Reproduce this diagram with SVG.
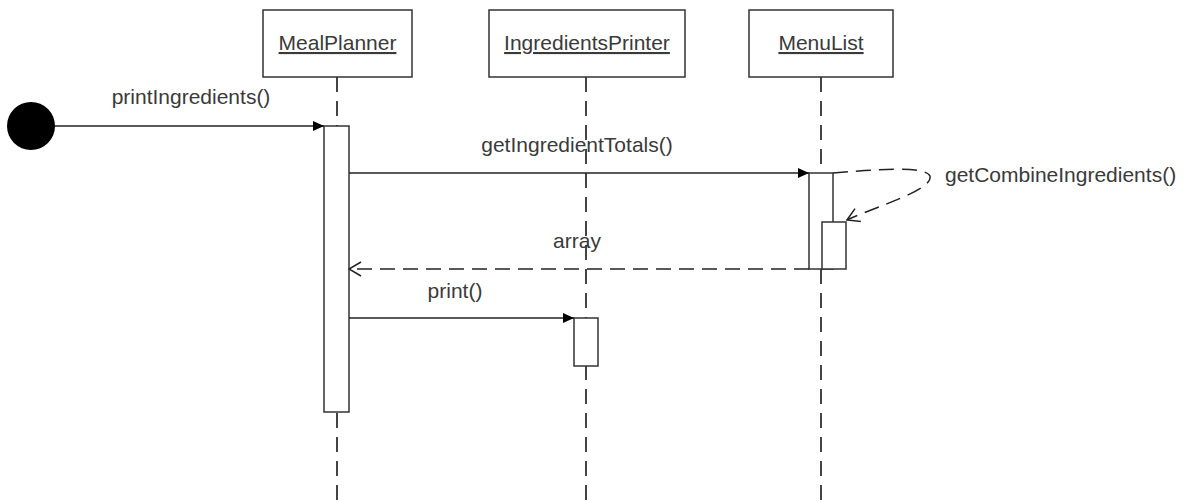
<svg xmlns="http://www.w3.org/2000/svg" width="1196" height="502" viewBox="0 0 1196 502">
<style>
text{font-family:"Liberation Sans",Arial,sans-serif;font-size:21px;fill:#3a3a3a}
.box{fill:#fff;stroke:#333;stroke-width:1.5}
.life{stroke:#444;stroke-width:2;stroke-dasharray:15 9;fill:none}
.act{fill:#fff;stroke:#333;stroke-width:1.5}
.msg{stroke:#222;stroke-width:1.5;fill:none}
.ret{stroke:#222;stroke-width:1.5;fill:none;stroke-dasharray:15 8}
.u{text-decoration:underline}
</style>
<defs>
<marker id="fill" markerWidth="12" markerHeight="10" refX="11" refY="5" orient="auto" markerUnits="userSpaceOnUse">
<path d="M0,0 L11,5 L0,10 z" fill="#000"/>
</marker>
<marker id="openEnd" markerWidth="14" markerHeight="16" refX="13" refY="8" orient="auto" markerUnits="userSpaceOnUse">
<path d="M1,1 L13,8 L1,15" fill="none" stroke="#222" stroke-width="1.5"/>
</marker>
</defs>
<g id="lifelines">
<line class="life" x1="337" y1="77" x2="337" y2="502"/>
<line class="life" x1="586" y1="77" x2="586" y2="502"/>
<line class="life" x1="821" y1="77" x2="821" y2="502"/>
</g>
<g id="MealPlanner">
<rect class="box" x="263" y="10" width="149" height="67"/>
<text class="u" x="337.5" y="50" text-anchor="middle">MealPlanner</text>
</g>
<g id="IngredientsPrinter">
<rect class="box" x="489" y="10" width="196" height="67"/>
<text class="u" x="587" y="50" text-anchor="middle">IngredientsPrinter</text>
</g>
<g id="MenuList">
<rect class="box" x="749" y="10" width="144" height="67"/>
<text class="u" x="821" y="50" text-anchor="middle">MenuList</text>
</g>
<g id="start">
<circle cx="31" cy="126" r="24" fill="#000"/>
</g>
<g id="activations">
<rect class="act" x="324" y="126" width="25" height="286"/>
<rect class="act" x="809" y="173" width="24" height="96"/>
<rect class="act" x="822" y="222" width="24" height="47"/>
<rect class="act" x="574" y="318" width="24" height="48"/>
</g>
<g id="connectors">
<line class="msg" x1="55" y1="126" x2="324" y2="126" marker-end="url(#fill)"/>
<text x="191" y="104" text-anchor="middle">printIngredients()</text>
<line class="msg" x1="349" y1="173" x2="809" y2="173" marker-end="url(#fill)"/>
<text x="577" y="152" text-anchor="middle">getIngredientTotals()</text>
<path class="ret" d="M833,173 C870,170 925,165 930,176 C933,190 880,205 847,220" marker-end="url(#openEnd)"/>
<text x="945" y="182">getCombineIngredients()</text>
<line class="ret" x1="809" y1="269" x2="349" y2="269" marker-end="url(#openEnd)"/>
<text x="577" y="248" text-anchor="middle">array</text>
<line class="msg" x1="349" y1="318" x2="574" y2="318" marker-end="url(#fill)"/>
<text x="455" y="298" text-anchor="middle">print()</text>
</g>
</svg>
